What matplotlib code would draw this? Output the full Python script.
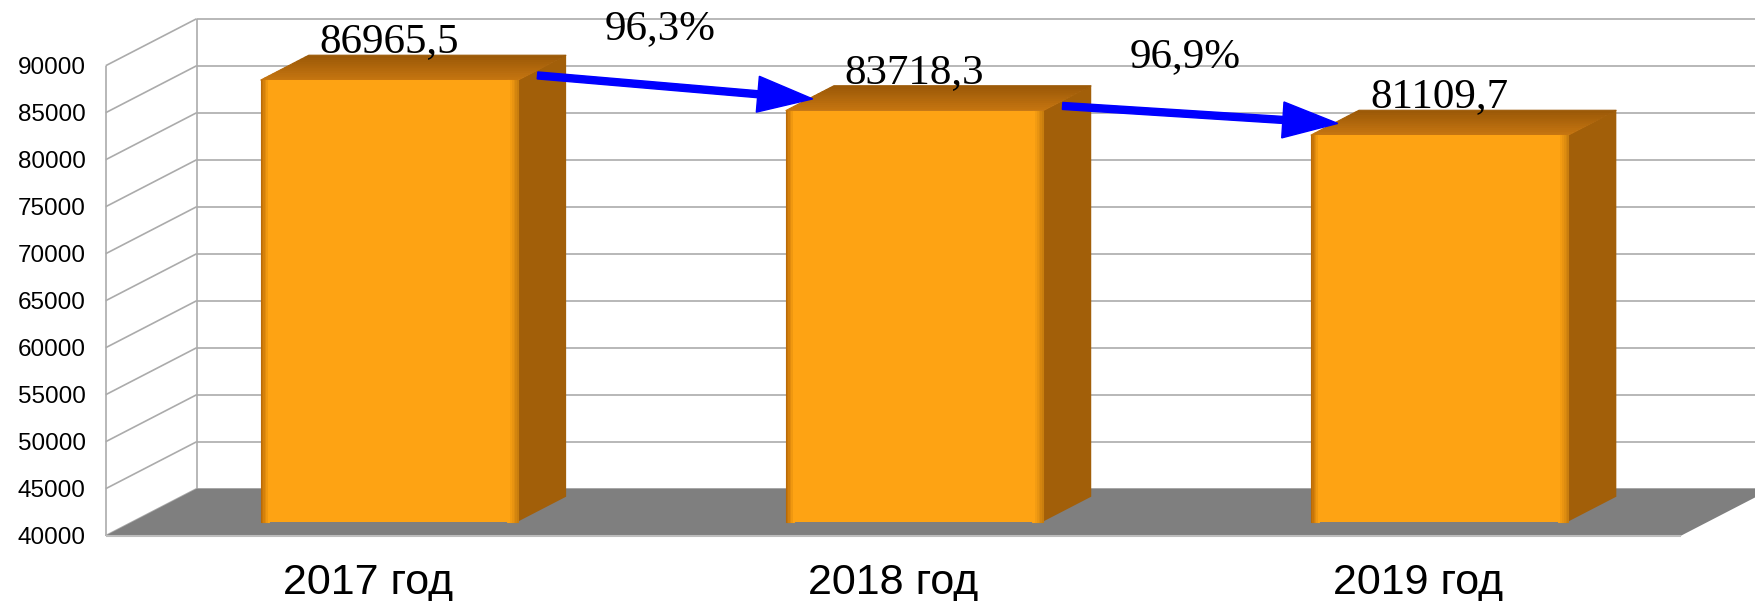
import matplotlib.pyplot as plt
import numpy as np
from matplotlib.patches import Polygon, FancyArrow
from matplotlib.transforms import IdentityTransform
from matplotlib.colors import to_rgb

# data
years = ["2017 год", "2018 год", "2019 год"]
values = [86965.5, 83718.3, 81109.7]
value_labels = ["86965,5", "83718,3", "81109,7"]
growth_labels = ["96,3%", "96,9%"]
y_ticks = list(range(40000, 90001, 5000))

# fake 3d: shift (px) of the back wall relative to the front plane
DEPTH_X, DEPTH_Y = 91, 47
Z_FRONT, Z_BACK = 0.3, 0.83
BAR_W = 0.49
BAR_OFF = 0.243

FRONT = "#FEA313"
SIDE = "#A25F09"
GRID = "#ABABAB"

fig = plt.figure(figsize=(17.55, 6.01), dpi=100)
ax = fig.add_axes([105.7 / 1755, 65.3 / 601, 1575.3 / 1755, 470 / 601])
ax.set_xlim(0, 3)
ax.set_ylim(40000, 90000)
for s in ax.spines.values():
    s.set_visible(False)
ax.patch.set_visible(False)
ax.set_yticks(y_ticks)
ax.set_yticklabels([str(t) for t in y_ticks], fontsize=17.5, family="Liberation Sans")
ax.set_xticks([0.5, 1.5, 2.5])
ax.set_xticklabels(years, fontsize=31, family="Liberation Sans")
ax.tick_params(length=0)
ax.tick_params(axis="y", pad=14.5)
ax.tick_params(axis="x", pad=20)

IDT = IdentityTransform()


def P(x, v, z):
    """data point (x, value) pushed back to depth z (0 front, 1 back wall), display px"""
    px, py = ax.transData.transform((x, v))
    return (px + DEPTH_X * z, py + DEPTH_Y * z)


def poly(pts, color, zorder, seam=False):
    ax.add_patch(Polygon(pts, closed=True, facecolor=color,
                         edgecolor=color if seam else "none", lw=0.8 if seam else 0,
                         transform=IDT, clip_on=False, zorder=zorder))


def line(a, b, color=GRID, lw=1.2, zorder=1):
    ax.plot([a[0], b[0]], [a[1], b[1]], color=color, lw=lw, transform=IDT,
            clip_on=False, zorder=zorder, solid_capstyle="butt")


def mix(c0, c1, t):
    c0, c1 = np.array(to_rgb(c0)), np.array(to_rgb(c1))
    return tuple(c0 + (c1 - c0) * t)


# walls
ymin, ymax = y_ticks[0], y_ticks[-1]
for t in y_ticks:
    line(P(0, t, 1), P(3, t, 1))
    line(P(0, t, 0), P(0, t, 1))
line(P(0, ymin, 0), P(0, ymax, 0))
line(P(0, ymin, 1), P(0, ymax, 1))

# floor
poly([P(0, ymin, 0), P(3, ymin, 0), P(3, ymin, 1), P(0, ymin, 1)], "#7F7F7F", 2)
line(P(0, ymin, 0), P(3, ymin, 0), color="#BDBDBD", lw=1.5, zorder=2.5)

# bars
for i, v in enumerate(values):
    xl = i + BAR_OFF
    xr = xl + BAR_W
    # side face
    poly([P(xr, ymin, Z_FRONT), P(xr, ymin, Z_BACK), P(xr, v, Z_BACK), P(xr, v, Z_FRONT)], SIDE, 3)
    # top face, gradient front -> back
    n = 12
    for k in range(n):
        z0 = Z_FRONT + (Z_BACK - Z_FRONT) * k / n
        z1 = Z_FRONT + (Z_BACK - Z_FRONT) * (k + 1) / n
        c = mix("#C67510", "#9C5A08", k / (n - 1))
        poly([P(xl, v, z0), P(xr, v, z0), P(xr, v, z1), P(xl, v, z1)], c, 3, seam=True)
    # front face with darker edges
    poly([P(xl, ymin, Z_FRONT), P(xr, ymin, Z_FRONT), P(xr, v, Z_FRONT), P(xl, v, Z_FRONT)], FRONT, 4)
    edge_l = 0.016
    edge_r = 0.02
    for k in range(6):
        a = xl + edge_l * k / 6
        b = xl + edge_l * (k + 1) / 6
        poly([P(a, ymin, Z_FRONT), P(b, ymin, Z_FRONT), P(b, v, Z_FRONT), P(a, v, Z_FRONT)],
             mix("#B96A06", FRONT, k / 5), 4.5, seam=True)
        a = xr - edge_r * (k + 1) / 6
        b = xr - edge_r * k / 6
        poly([P(a, ymin, Z_FRONT), P(b, ymin, Z_FRONT), P(b, v, Z_FRONT), P(a, v, Z_FRONT)],
             mix("#C97E0E", FRONT, k / 5), 4.5, seam=True)
    # value label
    lx, ly = P(xl + BAR_W / 2, v, Z_FRONT)
    ax.text(lx, ly + 28, value_labels[i], transform=IDT, ha="center", va="baseline",
            fontsize=31, family="Liberation Serif", zorder=6, clip_on=False)

# growth arrows between bars
for i in range(len(values) - 1):
    tail = P(i + BAR_OFF + BAR_W + 0.02, values[i], 0.4)
    tip = P(i + 1 + BAR_OFF + 0.008, values[i + 1], 0.55)
    ax.add_patch(FancyArrow(tail[0], tail[1], tip[0] - tail[0], tip[1] - tail[1],
                            width=7, head_width=36, head_length=55,
                            length_includes_head=True, color="#0000FF",
                            transform=IDT, clip_on=False, zorder=7))
    mx, my = (tail[0] + tip[0]) / 2, (tail[1] + tip[1]) / 2
    ax.text(mx - 15, my + 58, growth_labels[i], transform=IDT, ha="center", va="center",
            fontsize=31, family="Liberation Serif", zorder=6, clip_on=False)

fig.savefig("out.png", dpi=100)
